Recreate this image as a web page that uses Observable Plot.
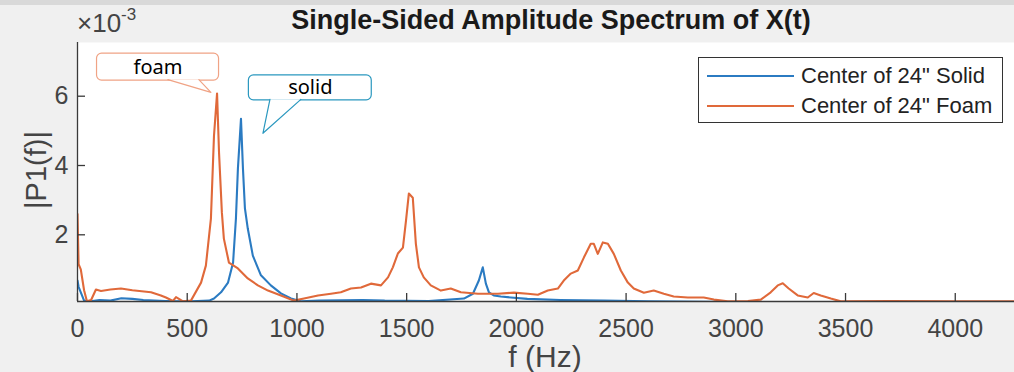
<!DOCTYPE html>
<html>
<head>
<meta charset="utf-8">
<script src="https://cdn.jsdelivr.net/npm/d3@7"></script>
<script src="https://cdn.jsdelivr.net/npm/@observablehq/plot@0.6"></script>
<style>
  html, body { margin: 0; padding: 0; background: #f0f0f0; }
  #wrap { position: relative; width: 1014px; height: 372px; overflow: hidden; background: #f0f0f0; font-family: "Liberation Sans", Arial, sans-serif; }
  #topstrip { position: absolute; left: 0; top: 0; width: 1014px; height: 5px; background: #d9d9d9; }
  #title { position: absolute; left: 551px; top: 5px; transform: translateX(-50%); font-weight: bold; font-size: 27px; color: #1a1a1a; white-space: nowrap; }
  #exp { position: absolute; left: 77px; top: 7px; font-size: 26px; color: #444; white-space: nowrap; }
  #exp sup { font-size: 17px; position: relative; top: -2px; }
  #ylab { position: absolute; left: 36px; top: 170px; transform: translate(-50%, -50%) rotate(-90deg); font-size: 29px; color: #444; white-space: nowrap; }
  #xlab { position: absolute; left: 545px; top: 340px; transform: translateX(-50%); font-size: 30px; color: #444; white-space: nowrap; }
  #legend { position: absolute; left: 698px; top: 57px; width: 305px; height: 66px; background: #fff; border: 1.5px solid #333; box-sizing: border-box; }
  .lg { position: absolute; left: 8px; height: 26px; display: flex; align-items: center; font-size: 22px; color: #222; white-space: nowrap; }
  .lg span.sw { display: inline-block; width: 87px; height: 2px; margin-right: 7px; }
</style>
</head>
<body>
<div id="wrap">
  <div id="topstrip"></div>
  <div id="chart"></div>
  <div id="title"></div>
  <div id="exp">×10<sup>-3</sup></div>
  <div id="ylab"></div>
  <div id="xlab"></div>
  <div id="legend"></div>
</div>
<script>
// ---- data (amplitude in units of 1e-3) ----
const seriesNames = ['Center of 24" Solid', 'Center of 24" Foam'];
const seriesColors = ["#2b7bc2", "#e0693a"];

const solidFreq = [0, 5, 15, 30, 60, 100, 150, 200, 250, 300, 400, 450, 520, 600, 622, 654, 686, 709, 722, 731, 745, 754, 763, 776, 799, 836, 881, 927, 973, 1018, 1100, 1300, 1400, 1600, 1761, 1802, 1829, 1847, 1861, 1875, 1897, 1929, 1975, 2050, 2200, 2400, 2600, 3000, 4270];
const solidAmp  = [0.68, 0.5, 0.34, 0.1, 0.08, 0.12, 0.1, 0.17, 0.15, 0.12, 0.09, 0.08, 0.08, 0.1, 0.16, 0.34, 0.62, 1.2, 2.47, 3.91, 5.35, 3.91, 2.76, 2.18, 1.4, 0.83, 0.54, 0.31, 0.16, 0.08, 0.1, 0.12, 0.1, 0.09, 0.16, 0.3, 0.68, 1.06, 0.59, 0.34, 0.25, 0.22, 0.19, 0.15, 0.12, 0.1, 0.08, 0.06, 0.06];

const foamFreq = [0, 5, 15, 30, 43, 62, 84, 107, 150, 198, 250, 335, 380, 403, 435, 449, 481, 517, 563, 585, 608, 622, 636, 645, 658, 667, 690, 731, 776, 822, 868, 927, 986, 1032, 1096, 1155, 1200, 1246, 1292, 1337, 1383, 1415, 1437, 1460, 1483, 1497, 1510, 1528, 1542, 1556, 1578, 1610, 1656, 1701, 1747, 1825, 1916, 1989, 2052, 2098, 2143, 2189, 2216, 2248, 2280, 2308, 2339, 2353, 2371, 2394, 2417, 2444, 2476, 2508, 2535, 2581, 2626, 2672, 2717, 2781, 2854, 2900, 2963, 3055, 3114, 3159, 3191, 3214, 3241, 3282, 3328, 3355, 3387, 3433, 3478, 3700, 4000, 4270];
const foamAmp  = [2.6, 1.15, 1.0, 0.4, 0.08, 0.12, 0.42, 0.38, 0.42, 0.45, 0.4, 0.34, 0.25, 0.19, 0.09, 0.2, 0.08, 0.1, 0.62, 1.11, 2.47, 4.86, 6.08, 4.37, 2.64, 1.89, 1.2, 1.03, 0.74, 0.54, 0.39, 0.25, 0.1, 0.16, 0.25, 0.3, 0.34, 0.45, 0.48, 0.59, 0.54, 0.77, 1.06, 1.46, 1.63, 2.41, 3.19, 3.07, 1.74, 1.06, 0.77, 0.54, 0.39, 0.45, 0.34, 0.3, 0.3, 0.33, 0.3, 0.27, 0.39, 0.45, 0.68, 0.88, 0.97, 1.35, 1.74, 1.74, 1.45, 1.78, 1.74, 1.45, 0.97, 0.62, 0.45, 0.33, 0.39, 0.3, 0.22, 0.19, 0.19, 0.13, 0.08, 0.09, 0.13, 0.34, 0.54, 0.6, 0.45, 0.25, 0.19, 0.32, 0.25, 0.16, 0.08, 0.09, 0.08, 0.08];

const xTicks = [0, 500, 1000, 1500, 2000, 2500, 3000, 3500, 4000];
const yTicks = [2, 4, 6];
const xDomain = [0, 4270];
const yDomain = [0.075, 7.55];

// callouts (data coordinates)
const calloutLabels  = ["foam", "solid"];
const calloutColors  = ["#f0a385", "#2a98bf"];
const calloutX1      = [89, 781];
const calloutX2      = [645, 1341];
const calloutYTop    = [7.23, 6.60];
const calloutYBottom = [6.45, 5.88];
const pointerBaseL   = [412, 877];
const pointerBaseR   = [553, 1018];
const pointerTipX    = [608, 845];
const pointerTipY    = [6.11, 4.93];

const titleText = "Single-Sided Amplitude Spectrum of X(t)";
const xLabel = "f (Hz)";
const yLabel = "|P1(f)|";

// ---- build tables ----
const rows = [];
solidFreq.forEach((f, i) => rows.push({f, v: solidAmp[i], s: seriesNames[0]}));
foamFreq.forEach((f, i) => rows.push({f, v: foamAmp[i], s: seriesNames[1]}));

const boxes = calloutLabels.map((l, i) => ({l, c: calloutColors[i], x1: calloutX1[i], x2: calloutX2[i], y1: calloutYBottom[i], y2: calloutYTop[i]}));
const pointers = [];
calloutLabels.forEach((l, i) => {
  const yb = calloutYBottom[i] + 0.03;
  pointers.push({l, c: calloutColors[i], x: pointerBaseL[i], y: yb});
  pointers.push({l, c: calloutColors[i], x: pointerTipX[i], y: pointerTipY[i]});
  pointers.push({l, c: calloutColors[i], x: pointerBaseR[i], y: yb});
});

const W = 1014, H = 372, mL = 77, mR = 0, mT = 42, mB = 71;
const frameW = W - mL - mR, frameH = H - mT - mB;

const chart = Plot.plot({
  width: W, height: H,
  marginLeft: mL, marginRight: mR, marginTop: mT, marginBottom: mB,
  style: {background: "transparent", fontFamily: '"Liberation Sans", Arial, sans-serif', overflow: "visible"},
  x: {domain: xDomain},
  y: {domain: yDomain},
  color: {domain: seriesNames, range: seriesColors},
  marks: [
    Plot.frame({fill: "white", stroke: "none"}),
    Plot.line(rows, {x: "f", y: "v", z: "s", stroke: "s", strokeWidth: 2.1, strokeLinejoin: "round", clip: true}),
    Plot.ruleX([xDomain[0]], {stroke: "#3a3a3a", strokeWidth: 1.3}),
    Plot.ruleY([yDomain[0]], {stroke: "#3a3a3a", strokeWidth: 1.3}),
    Plot.tickX(xTicks, {x: d => d, stroke: "#3a3a3a", strokeWidth: 1.3, insetTop: frameH - 8}),
    Plot.tickY(yTicks, {y: d => d, stroke: "#3a3a3a", strokeWidth: 1.3, insetRight: frameW - 8}),
    Plot.axisX({ticks: xTicks, tickSize: 0, tickPadding: 18, fontSize: 25, color: "#444", label: null, tickFormat: d => String(d)}),
    Plot.axisY({ticks: yTicks, tickSize: 0, tickPadding: 9, fontSize: 25, color: "#444", label: null, tickFormat: d => String(d)}),
    Plot.rect(boxes, {x1: "x1", x2: "x2", y1: "y1", y2: "y2", fill: "white", stroke: "c", strokeWidth: 1.2, rx: 5}),
    Plot.line(pointers, {x: "x", y: "y", z: "l", stroke: "c", fill: "white", strokeWidth: 1.2}),
    Plot.text(boxes, {x: d => (d.x1 + d.x2) / 2, y: d => (d.y1 + d.y2) / 2, text: "l", fill: "black", fontSize: 20, fontFamily: '"Noto Sans", "Open Sans", sans-serif'})
  ]
});
document.getElementById("chart").appendChild(chart);

document.getElementById("title").textContent = titleText;
document.getElementById("xlab").textContent = xLabel;
document.getElementById("ylab").textContent = yLabel;

const lg = document.getElementById("legend");
seriesNames.forEach((n, i) => {
  const d = document.createElement("div");
  d.className = "lg";
  d.style.top = (5 + i * 30) + "px";
  const sw = document.createElement("span");
  sw.className = "sw";
  sw.style.background = seriesColors[i];
  d.appendChild(sw);
  d.appendChild(document.createTextNode(n));
  lg.appendChild(d);
});
</script>
</body>
</html>
